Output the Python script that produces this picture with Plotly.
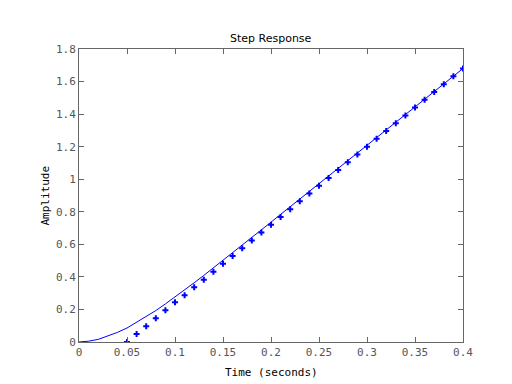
import plotly.graph_objects as go

# Continuous step response (line)
t_line = [0.00, 0.01, 0.02, 0.03, 0.04, 0.05, 0.06, 0.07, 0.08, 0.09, 0.10,
          0.11, 0.12, 0.13, 0.14, 0.15, 0.16, 0.17, 0.18, 0.19, 0.20,
          0.21, 0.22, 0.23, 0.24, 0.25, 0.26, 0.27, 0.28, 0.29, 0.30,
          0.31, 0.32, 0.33, 0.34, 0.35, 0.36, 0.37, 0.38, 0.39, 0.40]
y_line = [0.000, 0.005, 0.016, 0.037, 0.059, 0.086, 0.120, 0.155, 0.193, 0.234, 0.276,
          0.319, 0.364, 0.409, 0.455, 0.501, 0.548, 0.595, 0.642, 0.689, 0.736,
          0.784, 0.831, 0.878, 0.925, 0.972, 1.019, 1.066, 1.113, 1.160, 1.207,
          1.254, 1.301, 1.348, 1.395, 1.443, 1.490, 1.537, 1.584, 1.632, 1.680]

# Sampled points (markers)
t_pts = [0.05, 0.06, 0.07, 0.08, 0.09, 0.10, 0.11, 0.12, 0.13, 0.14, 0.15,
         0.16, 0.17, 0.18, 0.19, 0.20, 0.21, 0.22, 0.23, 0.24, 0.25,
         0.26, 0.27, 0.28, 0.29, 0.30, 0.31, 0.32, 0.33, 0.34, 0.35,
         0.36, 0.37, 0.38, 0.39, 0.40]
y_pts = [0.000, 0.049, 0.096, 0.146, 0.195, 0.244, 0.287, 0.336, 0.383, 0.432, 0.480,
         0.528, 0.576, 0.624, 0.672, 0.720, 0.768, 0.816, 0.864, 0.912, 0.960,
         1.008, 1.056, 1.104, 1.152, 1.200, 1.248, 1.296, 1.344, 1.392, 1.440,
         1.488, 1.536, 1.584, 1.632, 1.680]

x_ticks = [0, 0.05, 0.1, 0.15, 0.2, 0.25, 0.3, 0.35, 0.4]
x_ticktext = ["0", "0.05", "0.1", "0.15", "0.2", "0.25", "0.3", "0.35", "0.4"]
y_ticks = [0, 0.2, 0.4, 0.6, 0.8, 1.0, 1.2, 1.4, 1.6, 1.8]
y_ticktext = ["0", "0.2", "0.4", "0.6", "0.8", "1", "1.2", "1.4", "1.6", "1.8"]

fig = go.Figure()
fig.add_trace(go.Scatter(x=t_line, y=y_line, mode="lines",
                         line=dict(color="#0000ff", width=1), showlegend=False))
fig.add_trace(go.Scatter(x=t_pts, y=y_pts, mode="markers",
                         marker=dict(symbol="cross", color="#0000ff", size=5,
                                     line=dict(width=0)),
                         showlegend=False))

axis_common = dict(showgrid=False, zeroline=False, showline=True, linecolor="#666666",
                   linewidth=1, mirror="ticks", ticks="inside", ticklen=5,
                   tickcolor="#666666",
                   tickfont=dict(family="DejaVu Sans Mono", size=11, color="#555555"))

fig.update_xaxes(range=[0, 0.4], tickvals=x_ticks, ticktext=x_ticktext, **axis_common)
fig.update_yaxes(range=[0, 1.8], tickvals=y_ticks, ticktext=y_ticktext, **axis_common)

fig.update_layout(
    width=504, height=376,
    margin=dict(l=71, r=49, t=41, b=42),
    paper_bgcolor="white", plot_bgcolor="white",
    annotations=[
        dict(text="Step Response", xref="paper", yref="paper", x=0.5, y=1 + 11 / 293,
             xanchor="center", yanchor="middle", showarrow=False,
             font=dict(family="DejaVu Sans", size=11, color="black")),
        dict(text="Time (seconds)", xref="paper", yref="paper", x=0.5, y=-30 / 293,
             xanchor="center", yanchor="middle", showarrow=False,
             font=dict(family="DejaVu Sans Mono", size=11, color="black")),
        dict(text="Amplitude", xref="paper", yref="paper", x=-34 / 384, y=0.5,
             xanchor="center", yanchor="middle", showarrow=False, textangle=-90,
             font=dict(family="DejaVu Sans Mono", size=11, color="black")),
    ],
)

fig.write_html("out.html")
